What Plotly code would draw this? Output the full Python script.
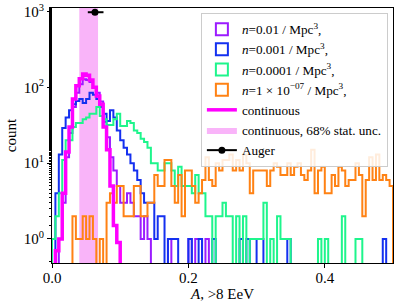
import numpy as np
import plotly.graph_objects as go

# ---- data ----
bin_edges = np.linspace(0.0, 0.5, 101)

counts_n1e2 = [0, 0, 1, 3, 12, 25, 55, 85, 110, 128,
               125, 118, 100, 85, 65, 35, 22, 12, 8, 5,
               3, 3, 4, 3, 2, 2, 1, 2, 1, 0,
               0, 0, 0, 0, 1, 0, 0, 0, 0, 0,
               1, 0, 1, 1, 0, 1, 0, 0, 0, 0,
               0, 0, 0, 0, 0, 0, 0, 0, 0, 0,
               0, 0, 0, 0, 0, 0, 0, 0, 0, 0,
               0, 0, 0, 0, 0, 0, 0, 0, 0, 0,
               0, 0, 0, 0, 0, 0, 0, 0, 0, 0,
               0, 0, 0, 0, 0, 0, 0, 0, 0, 0]

counts_n1e3 = [0, 4, 13, 29, 40, 50, 60, 66, 70, 62,
               70, 85, 80, 70, 55, 45, 36, 50, 40, 27,
               20, 16, 13, 10, 8, 6, 4, 3, 3, 3,
               1, 2, 2, 0, 1, 1, 1, 0, 0, 0,
               1, 0, 0, 1, 0, 0, 0, 1, 0, 0,
               0, 0, 0, 0, 0, 1, 0, 1, 0, 0,
               1, 1, 0, 0, 0, 0, 0, 0, 0, 1,
               0, 0, 0, 0, 0, 0, 0, 0, 0, 0,
               0, 0, 0, 0, 0, 0, 0, 0, 0, 0,
               0, 0, 0, 0, 0, 0, 0, 1, 0, 0]

counts_n1e4 = [1, 2, 4, 11, 20, 20, 30, 34, 34, 38,
               40, 45, 45, 55, 42, 38, 32, 32, 38, 45,
               31, 31, 36, 34, 27, 25, 21, 19, 16, 10,
               10, 8, 8, 10, 10, 8, 5, 9, 5, 5,
               5, 4, 7, 4, 4, 2, 2, 0, 2, 2,
               3, 2, 2, 0, 2, 0, 2, 0, 1, 1,
               1, 1, 3, 0, 1, 0, 2, 1, 1, 1,
               0, 0, 0, 0, 0, 0, 0, 0, 1, 0,
               1, 0, 0, 0, 0, 2, 0, 0, 0, 1,
               1, 0, 0, 0, 0, 0, 0, 0, 0, 0]

counts_n1e7 = [0, 0, 0, 0, 0, 0, 2, 1, 1, 2,
               1, 2, 1, 0, 1, 0, 3, 4, 3, 5,
               5, 2, 2, 2, 5, 5, 2, 2, 3, 3,
               7, 5, 5, 11, 11, 5, 3, 7, 2, 8,
               8, 5, 3, 4, 6, 12, 6, 5, 10, 8,
               11, 11, 13, 8, 11, 8, 13, 10, 4, 8,
               8, 8, 8, 5, 8, 10, 9, 7, 7, 10,
               7, 9, 10, 7, 6, 8, 15, 4, 8, 9,
               4, 4, 7, 5, 9, 8, 5, 6, 6, 10,
               7, 2, 6, 12, 6, 13, 6, 7, 6, 5]

counts_continuous = [0, 0.7, 1, 4, 14, 30, 70, 105, 130, 150,
                     145, 125, 100, 77, 60, 30, 15, 5, 1.5, 0.9,
                     0, 0, 0, 0, 0, 0, 0, 0, 0, 0,
                     0, 0, 0, 0, 0, 0, 0, 0, 0, 0,
                     0, 0, 0, 0, 0, 0, 0, 0, 0, 0,
                     0, 0, 0, 0, 0, 0, 0, 0, 0, 0,
                     0, 0, 0, 0, 0, 0, 0, 0, 0, 0,
                     0, 0, 0, 0, 0, 0, 0, 0, 0, 0,
                     0, 0, 0, 0, 0, 0, 0, 0, 0, 0,
                     0, 0, 0, 0, 0, 0, 0, 0, 0, 0]

band_low = 0.040
band_high = 0.0675

auger_A = [0.063]
auger_count = [980]
auger_err_minus = [0.0105]
auger_err_plus = [0.0125]

x_tick_vals = [0.0, 0.2, 0.4]
x_tick_text = ["0.0", "0.2", "0.4"]
y_tick_vals = [1, 10, 100, 1000]
y_tick_text = ["10<sup>0</sup>", "10<sup>1</sup>", "10<sup>2</sup>", "10<sup>3</sup>"]

series = [
    ("<i>n</i>=0.01 / Mpc<sup>3</sup>,", counts_n1e2, "#9b1cff"),
    ("<i>n</i>=0.001 / Mpc<sup>3</sup>,", counts_n1e3, "#1430f0"),
    ("<i>n</i>=0.0001 / Mpc<sup>3</sup>,", counts_n1e4, "#1ef58c"),
    ("<i>n</i>=1 × 10<sup>−07</sup> / Mpc<sup>3</sup>,", counts_n1e7, "#ff8214"),
]

FONT = "Liberation Serif"
floor = 1e-3


def step_xy(counts):
    x = [bin_edges[0]] + list(bin_edges[:-1]) + [bin_edges[-1]]
    y = [floor] + [c if c > 0 else floor for c in counts] + [floor]
    return x, y


fig = go.Figure()

# 68% band
fig.add_trace(go.Scatter(
    x=[band_low, band_high, band_high, band_low, band_low],
    y=[floor, floor, 1e5, 1e5, floor],
    fill="toself", fillcolor="#f9b4f9", mode="lines",
    line=dict(width=0, color="#f9b4f9"),
    name="continuous, 68% stat. unc.", legendrank=6, hoverinfo="skip"))

for i, (name, counts, color) in enumerate(series):
    xs, ys = step_xy(counts)
    fig.add_trace(go.Scatter(x=xs, y=ys, mode="lines", line_shape="hv",
                             line=dict(color=color, width=2),
                             showlegend=False, name=name))
    # legend proxy (outlined box)
    fig.add_trace(go.Bar(x=[None], y=[None], name=name, legendrank=i + 1,
                         marker=dict(color="rgba(0,0,0,0)",
                                     line=dict(color=color, width=2))))

xs, ys = step_xy(counts_continuous)
fig.add_trace(go.Scatter(x=xs, y=ys, mode="lines", line_shape="hv",
                         line=dict(color="#ff00ff", width=3.5),
                         name="continuous", legendrank=5))

fig.add_trace(go.Scatter(
    x=auger_A, y=auger_count, mode="lines+markers",
    marker=dict(color="black", size=7), line=dict(color="black", width=2),
    error_x=dict(type="data", symmetric=False, array=auger_err_plus,
                 arrayminus=auger_err_minus, color="black", thickness=2, width=0),
    name="Auger", legendrank=7))

fig.update_layout(
    width=399, height=308,
    margin=dict(l=52, r=6, t=8, b=45, autoexpand=False),
    paper_bgcolor="white", plot_bgcolor="white",
    font=dict(family=FONT, size=15, color="black"),
    showlegend=True,
    legend=dict(x=0.985, y=0.98, xanchor="right", yanchor="top",
                bgcolor="rgba(255,255,255,0.85)", bordercolor="#cccccc",
                borderwidth=1, font=dict(family=FONT, size=13.2),
                itemwidth=30, tracegroupgap=0),
)

fig.update_xaxes(range=[0, 0.5], tickvals=x_tick_vals, ticktext=x_tick_text,
                 ticks="outside", ticklen=4, tickcolor="black", automargin=False,
                 tickfont=dict(family=FONT, size=15), ticklabelstandoff=-3,
                 showline=True, linecolor="black", linewidth=1, mirror=True,
                 showgrid=False, zeroline=False,
                 title=dict(text="<i>A</i>, &gt;8 EeV", standoff=1,
                            font=dict(family=FONT, size=15)))
fig.update_yaxes(type="log", range=[-0.317, 3.047],
                 tickvals=y_tick_vals, ticktext=y_tick_text,
                 ticks="outside", ticklen=4, tickcolor="black", automargin=False,
                 tickfont=dict(family=FONT, size=15),
                 minor=dict(ticks="outside", ticklen=2, tickcolor="black", showgrid=False),
                 showline=True, linecolor="black", linewidth=1, mirror=True,
                 showgrid=False, zeroline=False,
                 title=dict(text="count", standoff=3,
                            font=dict(family=FONT, size=15)))

fig.write_html("out.html", config={"displayModeBar": False},
               post_script="document.body.style.margin='0';document.body.style.overflow='hidden';")
